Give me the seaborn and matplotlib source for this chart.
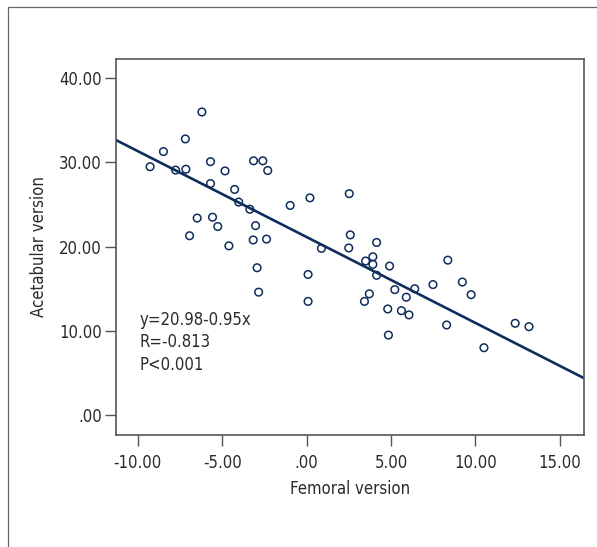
import matplotlib
matplotlib.use("Agg")
import matplotlib.pyplot as plt
from matplotlib import font_manager
import seaborn as sns
import pandas as pd
from matplotlib.patches import Rectangle

# 그림에서 읽어낸 값들
femoral = [-9.27, -8.48, -7.76, -7.18, -7.15, -6.20, -6.93, -6.48, -5.69, -5.69,
           -5.57, -5.26, -4.83, -4.60, -4.26, -4.02, -3.36, -3.14, -2.59, -2.30,
           -3.02, -3.16, -2.37, -2.93, -2.84, -0.97, 0.20, 0.88, 0.09, 0.09,
           2.53, 2.59, 2.50, 3.50, 3.93, 3.93, 4.15, 4.15, 3.72, 3.43,
           4.92, 4.81, 4.85, 5.23, 5.62, 5.91, 6.07, 6.41, 7.49, 8.37,
           8.30, 9.23, 9.75, 10.51, 12.36, 13.18]
acetabular = [29.5, 31.3, 29.1, 32.8, 29.2, 36.0, 21.3, 23.4, 30.1, 27.5,
              23.5, 22.4, 29.0, 20.1, 26.8, 25.3, 24.45, 30.2, 30.2, 29.05,
              22.5, 20.8, 20.9, 17.5, 14.6, 24.9, 25.8, 19.8, 16.7, 13.5,
              26.3, 21.4, 19.85, 18.3, 18.8, 17.9, 20.5, 16.6, 14.4, 13.5,
              17.7, 12.6, 9.5, 14.9, 12.4, 14.0, 11.9, 15.0, 15.5, 18.4,
              10.7, 15.8, 14.3, 8.0, 10.9, 10.5]
# 그림에 그려진 회귀선 (눈으로 읽은 값)
line_intercept = 21.15
line_slope = -1.02
x_ticks = [-10, -5, 0, 5, 10, 15]
y_ticks = [0, 10, 20, 30, 40]
stats_text = "y=20.98-0.95x\nR=-0.813\nP<0.001"

df = pd.DataFrame({"Femoral version": femoral, "Acetabular version": acetabular})

sns.set_style("white")

# 좁은 글꼴 찾기 (없으면 DejaVu Sans)
family, stretch = "DejaVu Sans", "normal"
names = {(f.name, f.stretch) for f in font_manager.fontManager.ttflist}
if any(n == "Liberation Sans Narrow" for n, _ in names):
    family = "Liberation Sans Narrow"
elif ("DejaVu Sans", "condensed") in names:
    family, stretch = "DejaVu Sans", "condensed"
plt.rcParams['font.family'] = [family, 'DejaVu Sans']
plt.rcParams['font.stretch'] = stretch
FS = 12.5 if family == "Liberation Sans Narrow" else 12

NAVY = "#0f2d5c"
FRAME = "#555555"
TXT = "#2a2a2a"

fig = plt.figure(figsize=(5.97, 5.47), dpi=100)
ax = fig.add_axes([0.194, 0.2055, 0.784, 0.6875])

# 바깥 테두리
fig.patches.append(Rectangle((8 / 597, -0.1), 1.2, 1.1 - 7 / 547,
                             transform=fig.transFigure, fill=False,
                             edgecolor="#666666", linewidth=0.9))

ax.set_xlim(-11.3, 16.43)
ax.set_ylim(-2.32, 42.35)

sns.scatterplot(data=df, x="Femoral version", y="Acetabular version", ax=ax,
                marker="o", facecolors="none", edgecolor=NAVY, s=30,
                linewidth=1.1)
ax.axline((0, line_intercept), slope=line_slope, color=NAVY, linewidth=1.9)

ax.set_xticks(x_ticks)
ax.set_yticks(y_ticks)
ax.set_xticklabels([".00" if v == 0 else "%.2f" % v for v in x_ticks])
ax.set_yticklabels([".00" if v == 0 else "%.2f" % v for v in y_ticks])
ax.tick_params(axis="both", direction="out", length=8, width=1, color=FRAME,
               labelsize=FS, labelcolor=TXT, left=True, bottom=True)
ax.tick_params(axis="y", pad=2)
ax.tick_params(axis="x", pad=6)
for s in ax.spines.values():
    s.set_color(FRAME)
    s.set_linewidth(1.2)

ax.set_xlabel("Femoral version", fontsize=FS, color=TXT, labelpad=6)
ax.set_ylabel("Acetabular version", fontsize=FS, color=TXT, labelpad=8)

ax.text(-9.9, 12.4, stats_text, fontsize=FS, color=TXT,
        va="top", ha="left", linespacing=1.33)

fig.savefig("out.png", dpi=100)
